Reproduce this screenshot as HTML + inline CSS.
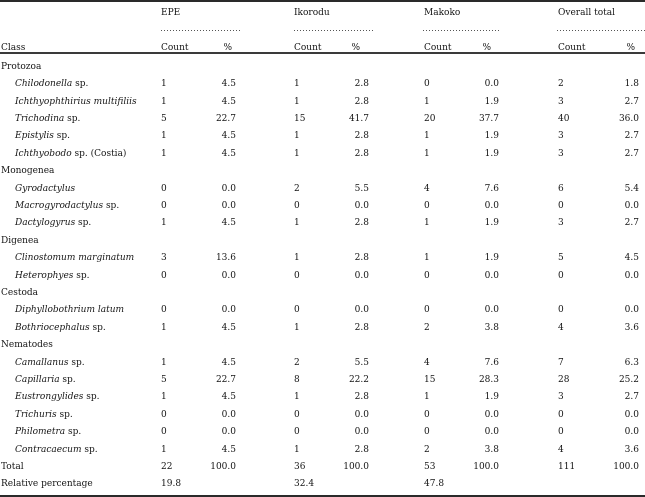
<!DOCTYPE html>
<html>
<head>
<meta charset="utf-8">
<style>
  html,body{margin:0;padding:0;background:#fff;}
  #t{position:relative;width:645px;height:497px;overflow:hidden;background:#fff;
     font-family:"DejaVu Serif","Liberation Serif",serif;font-size:9px;color:#151515;}
  .r{position:absolute;left:0;width:645px;height:12px;line-height:12px;white-space:nowrap;}
  .r span{position:absolute;top:0;}
  .c0{left:1px;}
  .sp{left:15px;}
  i{font-style:italic;}
  .n1{left:161px;} .n2{left:294px;} .n3{left:424px;} .n4{left:558px;}
  .p1{right:409px;} .p2{right:276px;} .p3{right:146px;} .p4{right:6px;}
  .h1{right:413px;} .h2{right:285px;} .h3{right:154px;} .h4{right:10px;}
  .line{position:absolute;left:0;width:645px;background:#2a2a2a;}
</style>
</head>
<body>
<div id="t">
  <div class="line" style="top:0;height:2px;"></div>
  <div class="line" style="top:52px;height:2px;background:#3a3a3a;"></div>
  <div class="line" style="top:495px;height:2px;"></div>

  <svg style="position:absolute;left:0;top:0" width="645" height="40">
    <g stroke="#555" stroke-width="1" stroke-dasharray="1,2">
      <line x1="161" y1="30.5" x2="240" y2="30.5"/>
      <line x1="294" y1="30.5" x2="373" y2="30.5"/>
      <line x1="423" y1="30.5" x2="499" y2="30.5"/>
      <line x1="557" y1="30.5" x2="645" y2="30.5"/>
    </g>
  </svg>

  <div class="r" style="top:7px"><span class="n1">EPE</span><span class="n2">Ikorodu</span><span class="n3">Makoko</span><span class="n4">Overall total</span></div>
  <div class="r" style="top:41.5px"><span class="c0">Class</span><span class="n1">Count</span><span class="h1">%</span><span class="n2">Count</span><span class="h2">%</span><span class="n3">Count</span><span class="h3">%</span><span class="n4">Count</span><span class="h4">%</span></div>

  <div class="r" style="top:60.8px"><span class="c0">Protozoa</span></div>
  <div class="r" style="top:78.2px"><span class="sp"><i>Chilodonella</i> sp.</span><span class="n1">1</span><span class="p1">4.5</span><span class="n2">1</span><span class="p2">2.8</span><span class="n3">0</span><span class="p3">0.0</span><span class="n4">2</span><span class="p4">1.8</span></div>
  <div class="r" style="top:95.6px"><span class="sp"><i>Ichthyophthirius multifiliis</i></span><span class="n1">1</span><span class="p1">4.5</span><span class="n2">1</span><span class="p2">2.8</span><span class="n3">1</span><span class="p3">1.9</span><span class="n4">3</span><span class="p4">2.7</span></div>
  <div class="r" style="top:113px"><span class="sp"><i>Trichodina</i> sp.</span><span class="n1">5</span><span class="p1">22.7</span><span class="n2">15</span><span class="p2">41.7</span><span class="n3">20</span><span class="p3">37.7</span><span class="n4">40</span><span class="p4">36.0</span></div>
  <div class="r" style="top:130.4px"><span class="sp"><i>Epistylis</i> sp.</span><span class="n1">1</span><span class="p1">4.5</span><span class="n2">1</span><span class="p2">2.8</span><span class="n3">1</span><span class="p3">1.9</span><span class="n4">3</span><span class="p4">2.7</span></div>
  <div class="r" style="top:147.8px"><span class="sp"><i>Ichthyobodo</i> sp. (Costia)</span><span class="n1">1</span><span class="p1">4.5</span><span class="n2">1</span><span class="p2">2.8</span><span class="n3">1</span><span class="p3">1.9</span><span class="n4">3</span><span class="p4">2.7</span></div>

  <div class="r" style="top:165.2px"><span class="c0">Monogenea</span></div>
  <div class="r" style="top:182.6px"><span class="sp"><i>Gyrodactylus</i></span><span class="n1">0</span><span class="p1">0.0</span><span class="n2">2</span><span class="p2">5.5</span><span class="n3">4</span><span class="p3">7.6</span><span class="n4">6</span><span class="p4">5.4</span></div>
  <div class="r" style="top:200px"><span class="sp"><i>Macrogyrodactylus</i> sp.</span><span class="n1">0</span><span class="p1">0.0</span><span class="n2">0</span><span class="p2">0.0</span><span class="n3">0</span><span class="p3">0.0</span><span class="n4">0</span><span class="p4">0.0</span></div>
  <div class="r" style="top:217.4px"><span class="sp"><i>Dactylogyrus</i> sp.</span><span class="n1">1</span><span class="p1">4.5</span><span class="n2">1</span><span class="p2">2.8</span><span class="n3">1</span><span class="p3">1.9</span><span class="n4">3</span><span class="p4">2.7</span></div>

  <div class="r" style="top:234.8px"><span class="c0">Digenea</span></div>
  <div class="r" style="top:252.2px"><span class="sp"><i>Clinostomum marginatum</i></span><span class="n1">3</span><span class="p1">13.6</span><span class="n2">1</span><span class="p2">2.8</span><span class="n3">1</span><span class="p3">1.9</span><span class="n4">5</span><span class="p4">4.5</span></div>
  <div class="r" style="top:269.6px"><span class="sp"><i>Heterophyes</i> sp.</span><span class="n1">0</span><span class="p1">0.0</span><span class="n2">0</span><span class="p2">0.0</span><span class="n3">0</span><span class="p3">0.0</span><span class="n4">0</span><span class="p4">0.0</span></div>

  <div class="r" style="top:287px"><span class="c0">Cestoda</span></div>
  <div class="r" style="top:304.4px"><span class="sp"><i>Diphyllobothrium latum</i></span><span class="n1">0</span><span class="p1">0.0</span><span class="n2">0</span><span class="p2">0.0</span><span class="n3">0</span><span class="p3">0.0</span><span class="n4">0</span><span class="p4">0.0</span></div>
  <div class="r" style="top:321.8px"><span class="sp"><i>Bothriocephalus</i> sp.</span><span class="n1">1</span><span class="p1">4.5</span><span class="n2">1</span><span class="p2">2.8</span><span class="n3">2</span><span class="p3">3.8</span><span class="n4">4</span><span class="p4">3.6</span></div>

  <div class="r" style="top:339.2px"><span class="c0">Nematodes</span></div>
  <div class="r" style="top:356.6px"><span class="sp"><i>Camallanus</i> sp.</span><span class="n1">1</span><span class="p1">4.5</span><span class="n2">2</span><span class="p2">5.5</span><span class="n3">4</span><span class="p3">7.6</span><span class="n4">7</span><span class="p4">6.3</span></div>
  <div class="r" style="top:374px"><span class="sp"><i>Capillaria</i> sp.</span><span class="n1">5</span><span class="p1">22.7</span><span class="n2">8</span><span class="p2">22.2</span><span class="n3">15</span><span class="p3">28.3</span><span class="n4">28</span><span class="p4">25.2</span></div>
  <div class="r" style="top:391.4px"><span class="sp"><i>Eustrongylides</i> sp.</span><span class="n1">1</span><span class="p1">4.5</span><span class="n2">1</span><span class="p2">2.8</span><span class="n3">1</span><span class="p3">1.9</span><span class="n4">3</span><span class="p4">2.7</span></div>
  <div class="r" style="top:408.8px"><span class="sp"><i>Trichuris</i> sp.</span><span class="n1">0</span><span class="p1">0.0</span><span class="n2">0</span><span class="p2">0.0</span><span class="n3">0</span><span class="p3">0.0</span><span class="n4">0</span><span class="p4">0.0</span></div>
  <div class="r" style="top:426.2px"><span class="sp"><i>Philometra</i> sp.</span><span class="n1">0</span><span class="p1">0.0</span><span class="n2">0</span><span class="p2">0.0</span><span class="n3">0</span><span class="p3">0.0</span><span class="n4">0</span><span class="p4">0.0</span></div>
  <div class="r" style="top:443.6px"><span class="sp"><i>Contracaecum</i> sp.</span><span class="n1">1</span><span class="p1">4.5</span><span class="n2">1</span><span class="p2">2.8</span><span class="n3">2</span><span class="p3">3.8</span><span class="n4">4</span><span class="p4">3.6</span></div>

  <div class="r" style="top:461px"><span class="c0">Total</span><span class="n1">22</span><span class="p1">100.0</span><span class="n2">36</span><span class="p2">100.0</span><span class="n3">53</span><span class="p3">100.0</span><span class="n4">111</span><span class="p4">100.0</span></div>
  <div class="r" style="top:478px"><span class="c0">Relative percentage</span><span class="n1">19.8</span><span class="n2">32.4</span><span class="n3">47.8</span></div>
</div>
</body>
</html>
